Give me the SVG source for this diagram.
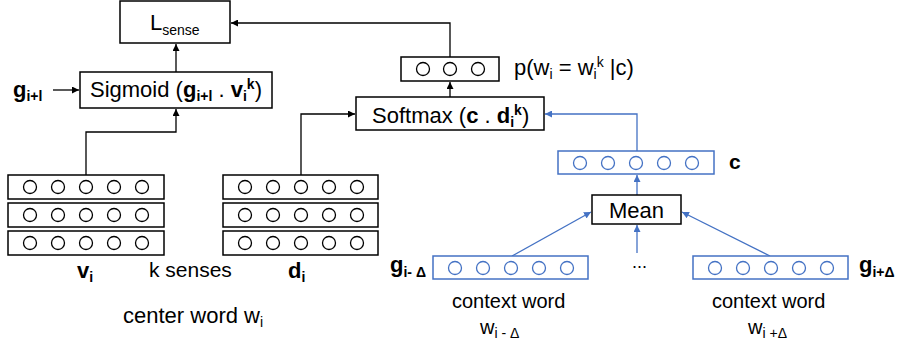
<svg xmlns="http://www.w3.org/2000/svg" width="898" height="349" viewBox="0 0 898 349">
<style>
text{font-family:"Liberation Sans",Arial,sans-serif;fill:#000}
.box{fill:#fff;stroke:#000;stroke-width:1.5}
.bbox{fill:#fff;stroke:#4472C4;stroke-width:1.5}
.c{fill:#fff;stroke:#000;stroke-width:1.3}
.bc{fill:#fff;stroke:#4472C4;stroke-width:1.3}
.k{fill:none;stroke:#000;stroke-width:1.3}
.b{fill:none;stroke:#4472C4;stroke-width:1.3}
.bold{font-weight:bold}
</style>
<defs>
<marker id="ak" viewBox="0 0 10 10" refX="10" refY="5" markerWidth="7" markerHeight="7" markerUnits="userSpaceOnUse" orient="auto"><path d="M0,0 L10,5 L0,10 z" fill="#000"/></marker>
<marker id="ab" viewBox="0 0 10 10" refX="10" refY="5" markerWidth="7" markerHeight="7" markerUnits="userSpaceOnUse" orient="auto"><path d="M0,0 L10,5 L0,10 z" fill="#4472C4"/></marker>
<g id="row5">
<circle class="c" cx="22" cy="12" r="6.5"/><circle class="c" cx="50" cy="12" r="6.5"/><circle class="c" cx="78" cy="12" r="6.5"/><circle class="c" cx="106" cy="12" r="6.5"/><circle class="c" cx="134" cy="12" r="6.5"/>
</g>
<g id="brow5">
<circle class="bc" cx="22" cy="12" r="6.5"/><circle class="bc" cx="50" cy="12" r="6.5"/><circle class="bc" cx="78" cy="12" r="6.5"/><circle class="bc" cx="106" cy="12" r="6.5"/><circle class="bc" cx="134" cy="12" r="6.5"/>
</g>
</defs>

<g id="connectors">
<path class="k" d="M450,57 V23 H231" marker-end="url(#ak)"/>
<path class="k" d="M176,72 V44" marker-end="url(#ak)"/>
<path class="k" d="M53,90 H79" marker-end="url(#ak)"/>
<path class="k" d="M86,175 V132 H176 V109" marker-end="url(#ak)"/>
<path class="k" d="M301,175 V114 H355" marker-end="url(#ak)"/>
<path class="k" d="M450,97 V82" marker-end="url(#ak)"/>
<path class="b" d="M637,151 V114 H545" marker-end="url(#ab)"/>
<path class="b" d="M637,195 V175" marker-end="url(#ab)"/>
<path class="b" d="M512,256 L591,212" marker-end="url(#ab)"/>
<path class="b" d="M770,256 L682,212" marker-end="url(#ab)"/>
<path class="b" d="M637,253 V225" marker-end="url(#ab)"/>
</g>

<g id="lsense">
<rect class="box" x="120" y="1" width="110" height="42"/>
<text x="150" y="30" font-size="22">L<tspan font-size="14" dy="5">sense</tspan></text>
</g>

<g id="sigmoid">
<rect class="box" x="80" y="72" width="192" height="36"/>
<text x="90" y="97" font-size="22">Sigmoid (<tspan class="bold">g</tspan><tspan class="bold" font-size="14" dy="4">i+l</tspan><tspan dy="-4"> . </tspan><tspan class="bold">v</tspan><tspan class="bold" font-size="14" dy="4">i</tspan><tspan class="bold" font-size="14" dy="-12">k</tspan><tspan dy="8">)</tspan></text>
</g>

<g id="g-label">
<text x="13" y="97" font-size="22" class="bold">g<tspan font-size="14" dy="4">i+l</tspan></text>
</g>

<g id="prob">
<rect class="box" x="401" y="57" width="98" height="24"/>
<circle class="c" cx="423" cy="69" r="6.5"/><circle class="c" cx="450" cy="69" r="6.5"/><circle class="c" cx="478" cy="69" r="6.5"/>
<text x="514" y="75" font-size="22">p(w<tspan font-size="14" dy="4">i</tspan><tspan dy="-4"> = w</tspan><tspan font-size="14" dy="4">i</tspan><tspan font-size="14" dy="-12">k</tspan><tspan dy="8"> |c)</tspan></text>
</g>

<g id="softmax">
<rect class="box" x="356" y="97" width="188" height="33"/>
<text x="372" y="123" font-size="22">Softmax (<tspan class="bold">c</tspan> . <tspan class="bold">d</tspan><tspan class="bold" font-size="14" dy="4">i</tspan><tspan class="bold" font-size="14" dy="-12">k</tspan><tspan dy="8">)</tspan></text>
</g>

<g id="v-vectors">
<rect class="box" x="8" y="175" width="156" height="24"/>
<use href="#row5" x="8" y="175"/>
<rect class="box" x="8" y="203" width="156" height="24"/>
<use href="#row5" x="8" y="203"/>
<rect class="box" x="8" y="231" width="156" height="24"/>
<use href="#row5" x="8" y="231"/>
<text x="77" y="278" font-size="22" class="bold">v<tspan font-size="14" dy="4">i</tspan></text>
</g>

<g id="d-vectors">
<rect class="box" x="223" y="175" width="155" height="24"/>
<use href="#row5" x="223" y="175"/>
<rect class="box" x="223" y="203" width="155" height="24"/>
<use href="#row5" x="223" y="203"/>
<rect class="box" x="223" y="231" width="155" height="24"/>
<use href="#row5" x="223" y="231"/>
<text x="288" y="278" font-size="22" class="bold">d<tspan font-size="14" dy="4">i</tspan></text>
</g>

<g id="labels">
<text x="149" y="277" font-size="21">k senses</text>
<text x="123" y="323" font-size="22">center word w<tspan font-size="14" dy="4">i</tspan></text>
</g>

<g id="c-vector">
<rect class="bbox" x="558" y="151" width="156" height="23"/>
<use href="#brow5" x="558" y="151"/>
<text x="729" y="169" font-size="21" class="bold">c</text>
</g>

<g id="mean">
<rect class="box" x="592" y="195" width="89" height="29"/>
<text x="636.5" y="218" font-size="22" text-anchor="middle">Mean</text>
</g>

<g id="ctx-left">
<rect class="bbox" x="433" y="256" width="155" height="23"/>
<use href="#brow5" x="433" y="256"/>
<text x="390" y="272" font-size="22" class="bold">g<tspan font-size="14" dy="5">i- Δ</tspan></text>
<text x="452" y="308" font-size="20">context word</text>
<text x="480" y="334" font-size="20">w<tspan font-size="14" dy="4">i - Δ</tspan></text>
</g>

<g id="dots">
<text x="632" y="268" font-size="18">...</text>
</g>

<g id="ctx-right">
<rect class="bbox" x="693" y="256" width="155" height="23"/>
<use href="#brow5" x="693" y="256"/>
<text x="859" y="272" font-size="22" class="bold">g<tspan font-size="14" dy="5">i+Δ</tspan></text>
<text x="712" y="308" font-size="20">context word</text>
<text x="748" y="334" font-size="20">w<tspan font-size="14" dy="4">i +Δ</tspan></text>
</g>
</svg>
